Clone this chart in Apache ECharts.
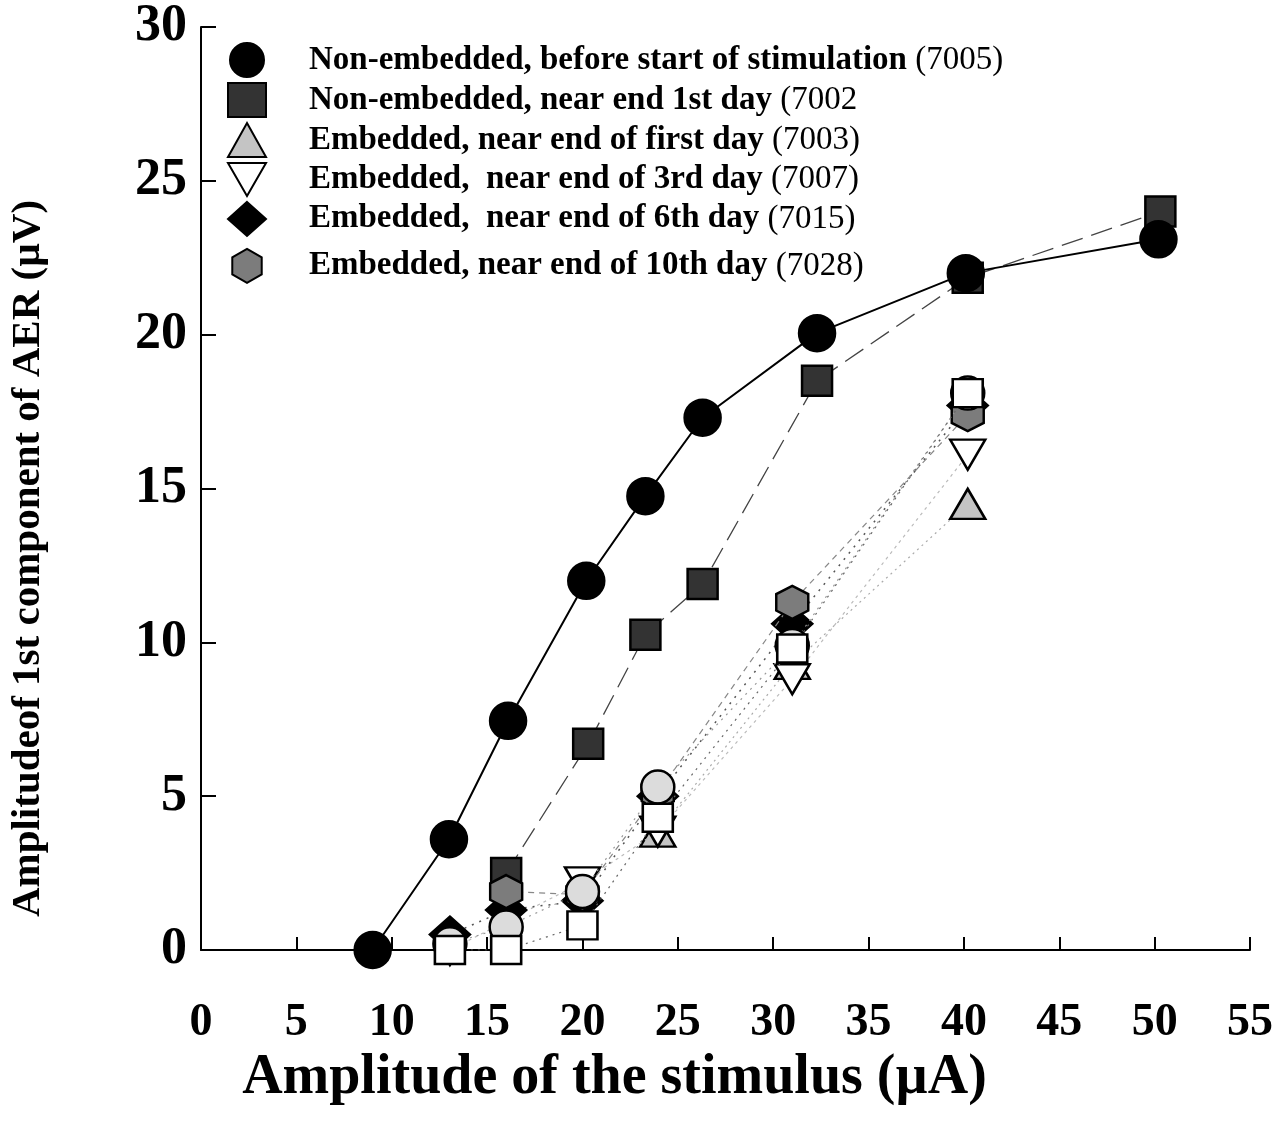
<!DOCTYPE html>
<html>
<head>
<meta charset="utf-8">
<script src="https://cdn.jsdelivr.net/npm/echarts@6/dist/echarts.min.js"></script>
<style>
  html, body { margin: 0; padding: 0; background: #fff; }
  #chart { width: 1288px; height: 1128px; }
</style>
</head>
<body>
<div id="chart"></div>
<script>
// Stimulus amplitude (µA) and first-component AER amplitude (µV) per recording
const xTicks = [0, 5, 10, 15, 20, 25, 30, 35, 40, 45, 50, 55];
const yTicks = [0, 5, 10, 15, 20, 25, 30];

const nonEmbBeforeX = [9, 13, 16.1, 20.2, 23.3, 26.3, 32.3, 40.1, 50.2];
const nonEmbBeforeY = [0, 3.6, 7.45, 12.0, 14.75, 17.3, 20.05, 22.0, 23.1];

const nonEmbDay1X = [16.0, 20.3, 23.3, 26.3, 32.3, 40.2, 50.3];
const nonEmbDay1Y = [2.5, 6.7, 10.25, 11.9, 18.5, 21.85, 24.0];

const embDay1X = [23.95, 31.0, 40.2];
const embDay1Y = [3.85, 9.3, 14.5];

const embDay3X = [13.05, 20.0, 23.95, 31.0, 40.2];
const embDay3Y = [0, 2.2, 3.85, 8.8, 16.1];

const embDay6X = [13.05, 16.0, 20.0, 23.95, 31.0, 40.2];
const embDay6Y = [0.5, 1.3, 1.6, 5.0, 10.6, 17.7];

const embDay10X = [16.0, 20.0, 23.95, 31.0, 40.2];
const embDay10Y = [1.9, 1.8, 5.1, 11.3, 17.4];

// Two further recordings plotted without a key entry
const extraCircleX = [13.05, 16.0, 20.0, 23.95, 31.0, 40.2];
const extraCircleY = [0.2, 0.75, 1.9, 5.3, 9.9, 18.1];

const extraSquareX = [13.05, 16.0, 20.0, 23.95, 31.0, 40.2];
const extraSquareY = [0, 0, 0.8, 4.3, 9.8, 18.1];

const legendNames = [
  'Non-embedded, before start of stimulation (7005)',
  'Non-embedded, near end 1st day (7002',
  'Embedded, near end of first day (7003)',
  'Embedded,  near end of 3rd day (7007)',
  'Embedded,  near end of 6th day (7015)',
  'Embedded, near end of 10th day (7028)'
];

const hexagon = 'path://M0,-10 L8.66,-5 L8.66,5 L0,10 L-8.66,5 L-8.66,-5 Z';
const triangleDown = 'path://M-10,-8.66 L10,-8.66 L0,8.66 Z';

function pairs(xs, ys) { return xs.map((x, i) => [x, ys[i]]); }

const serif = '"Liberation Serif", "Times New Roman", serif';

function legendText(lineHeight) {
  return {
    lineHeight: lineHeight,
    rich: {
      b: { fontFamily: serif, fontWeight: 'bold', fontSize: 33, lineHeight: lineHeight, color: '#000', padding: [0, 0, 0, 38] },
      n: { fontFamily: serif, fontWeight: 'normal', fontSize: 33, lineHeight: lineHeight, color: '#000' }
    }
  };
}

const chart = echarts.init(document.getElementById('chart'), null, { renderer: 'canvas' });

function lineSeries(name, xs, ys, symbol, size, fill, lineStyle, z) {
  return {
    name: name,
    type: 'line',
    data: pairs(xs, ys),
    symbol: symbol,
    symbolSize: size,
    showAllSymbol: true,
    z: z,
    itemStyle: { color: fill, borderColor: '#000', borderWidth: 2.5, opacity: 1 },
    lineStyle: lineStyle,
    emphasis: { disabled: true },
    animation: false
  };
}

const option = {
  backgroundColor: '#fff',
  animation: false,
  grid: { left: 200, right: 38, top: 27, bottom: 178 },
  xAxis: {
    type: 'value', min: 0, max: 55, interval: 5,
    name: 'Amplitude of the stimulus (\u00b5A)',
    nameLocation: 'middle', nameGap: 100,
    nameTextStyle: { fontFamily: serif, fontWeight: 'bold', fontSize: 56, color: '#000',
                     padding: [0, 222, 0, 0] },
    axisLine: { show: true, lineStyle: { color: '#000', width: 2 } },
    axisTick: { show: true, inside: true, length: 13, lineStyle: { color: '#000', width: 2 } },
    axisLabel: { fontFamily: serif, fontWeight: 'bold', fontSize: 46, color: '#000', margin: 50,
                 formatter: v => xTicks.includes(v) ? String(v) : '' },
    splitLine: { show: false }
  },
  yAxis: {
    type: 'value', min: 0, max: 30, interval: 5,
    name: 'Amplitudeof 1st component of AER (\u00b5V)',
    nameLocation: 'middle', nameGap: 152, nameRotate: 90,
    nameTextStyle: { fontFamily: serif, fontWeight: 'bold', fontSize: 41, color: '#000',
                     padding: [0, 140, 0, 0] },
    axisLine: { show: true, lineStyle: { color: '#000', width: 2 } },
    axisTick: { show: true, inside: true, length: 15, lineStyle: { color: '#000', width: 2 } },
    axisLabel: { fontFamily: serif, fontWeight: 'bold', fontSize: 52, color: '#000', margin: 14,
                 formatter: v => yTicks.includes(v) ? String(v) : '' },
    splitLine: { show: false }
  },
  legend: {
    orient: 'vertical', left: 222, top: 37,
    itemWidth: 38, itemHeight: 34, itemGap: 4,
    selectedMode: false,
    data: [
      { name: legendNames[0], icon: 'circle' },
      { name: legendNames[1], icon: 'rect' },
      { name: legendNames[2], icon: 'triangle' },
      { name: legendNames[3], icon: triangleDown },
      { name: legendNames[4], icon: 'diamond' },
      { name: legendNames[5], icon: hexagon, textStyle: legendText(50) }
    ],
    formatter: function (name) {
      const k = name.lastIndexOf('(');
      return '{b|' + name.slice(0, k).trimEnd() + '}{n| ' + name.slice(k) + '}';
    },
    textStyle: legendText(34)
  },
  series: [
    lineSeries(legendNames[1], nonEmbDay1X, nonEmbDay1Y, 'rect', [30, 30], '#333',
      { color: '#444', width: 1.3, type: [22, 9] }, 2),
    lineSeries(legendNames[2], embDay1X, embDay1Y, 'triangle', [35, 30], '#c4c4c4',
      { color: '#aaa', width: 1.2, type: [2, 4] }, 3),
    lineSeries(legendNames[3], embDay3X, embDay3Y, triangleDown, [35, 30], '#fff',
      { color: '#bbb', width: 1.2, type: [3, 4] }, 4),
    lineSeries(legendNames[4], embDay6X, embDay6Y, 'diamond', [40, 36], '#000',
      { color: '#555', width: 1.5, type: [2, 6] }, 5),
    lineSeries(legendNames[5], embDay10X, embDay10Y, hexagon, [32, 33], '#7c7c7c',
      { color: '#888', width: 1.2, type: [6, 5] }, 6),
    lineSeries('extra-circle', extraCircleX, extraCircleY, 'circle', 33, '#dcdcdc',
      { color: '#999', width: 1.2, type: [2, 5] }, 7),
    lineSeries('extra-square', extraSquareX, extraSquareY, 'rect', [30, 28], '#fff',
      { color: '#666', width: 1.2, type: [2, 5] }, 8),
    lineSeries(legendNames[0], nonEmbBeforeX, nonEmbBeforeY, 'circle', 36, '#000',
      { color: '#000', width: 2, type: 'solid' }, 9)
  ]
};

chart.setOption(option);
</script>
</body>
</html>
